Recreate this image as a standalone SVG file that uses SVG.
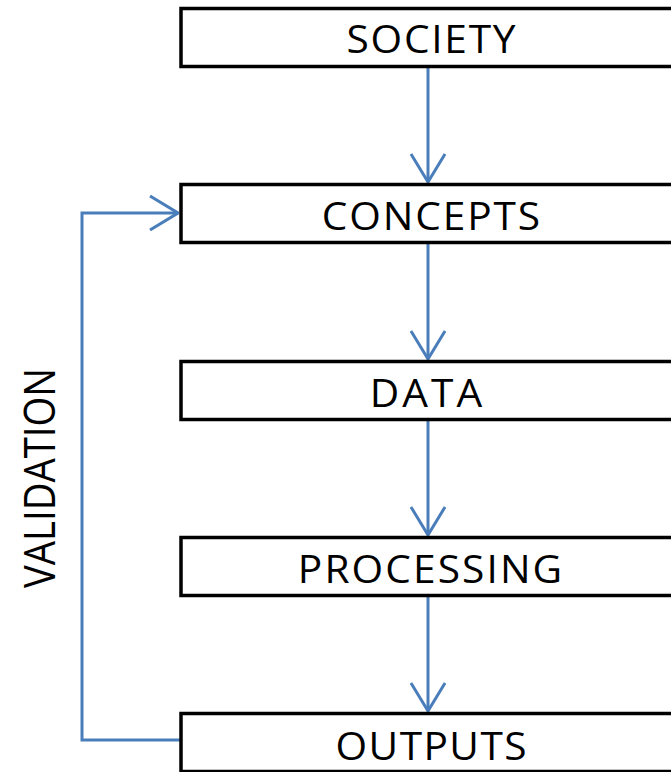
<svg xmlns="http://www.w3.org/2000/svg" width="671" height="772" viewBox="0 0 671 772">
  <style>
    .box { fill: #ffffff; stroke: #000000; stroke-width: 3.5; }
    .label { font-family: "Open Sans", "Noto Sans", sans-serif; font-size: 38px; fill: #000000; text-anchor: middle; }
    .side { font-size: 44px; }
    .link { fill: none; stroke: #4a7ebb; stroke-width: 3; }
  </style>
  <defs>
    <marker id="chevron" viewBox="0 0 30 36" refX="29" refY="18" markerWidth="30" markerHeight="36" markerUnits="userSpaceOnUse" orient="auto">
      <path d="M1,1 L29,18 L1,35" fill="none" stroke="#4a7ebb" stroke-width="3"/>
    </marker>
  </defs>
  <rect width="671" height="772" fill="#ffffff"/>

  <g id="connectors">
    <line class="link" x1="428" y1="67" x2="428" y2="182" marker-end="url(#chevron)"/>
    <line class="link" x1="428" y1="243" x2="428" y2="359" marker-end="url(#chevron)"/>
    <line class="link" x1="428" y1="420" x2="428" y2="535" marker-end="url(#chevron)"/>
    <line class="link" x1="428" y1="596" x2="428" y2="711" marker-end="url(#chevron)"/>
    <polyline class="link" points="180,740 82,740 82,213 178,213" marker-end="url(#chevron)"/>
  </g>

  <!-- box labels are widened slightly (scale 1.07) and letter-spaced to width -->
  <g id="society">
    <rect class="box" x="181" y="8.5" width="520" height="58"/>
    <text class="label" transform="translate(431,53) scale(1.07,1)" textLength="158" lengthAdjust="spacing">SOCIETY</text>
  </g>
  <g id="concepts">
    <rect class="box" x="181" y="184.5" width="520" height="58"/>
    <text class="label" transform="translate(431,230) scale(1.07,1)" textLength="204" lengthAdjust="spacing">CONCEPTS</text>
  </g>
  <g id="data">
    <rect class="box" x="181" y="361.5" width="520" height="58"/>
    <text class="label" transform="translate(426,407) scale(1.07,1)" textLength="105" lengthAdjust="spacing">DATA</text>
  </g>
  <g id="processing">
    <rect class="box" x="181" y="537.5" width="520" height="58"/>
    <text class="label" transform="translate(430,583) scale(1.07,1)" textLength="247" lengthAdjust="spacing">PROCESSING</text>
  </g>
  <g id="outputs">
    <rect class="box" x="181" y="713.5" width="520" height="58"/>
    <text class="label" transform="translate(431,760) scale(1.07,1)" textLength="178.5" lengthAdjust="spacing">OUTPUTS</text>
  </g>

  <g id="validation">
    <text class="label side" transform="translate(55,478) rotate(-90)" textLength="220" lengthAdjust="spacingAndGlyphs">VALIDATION</text>
  </g>
</svg>
